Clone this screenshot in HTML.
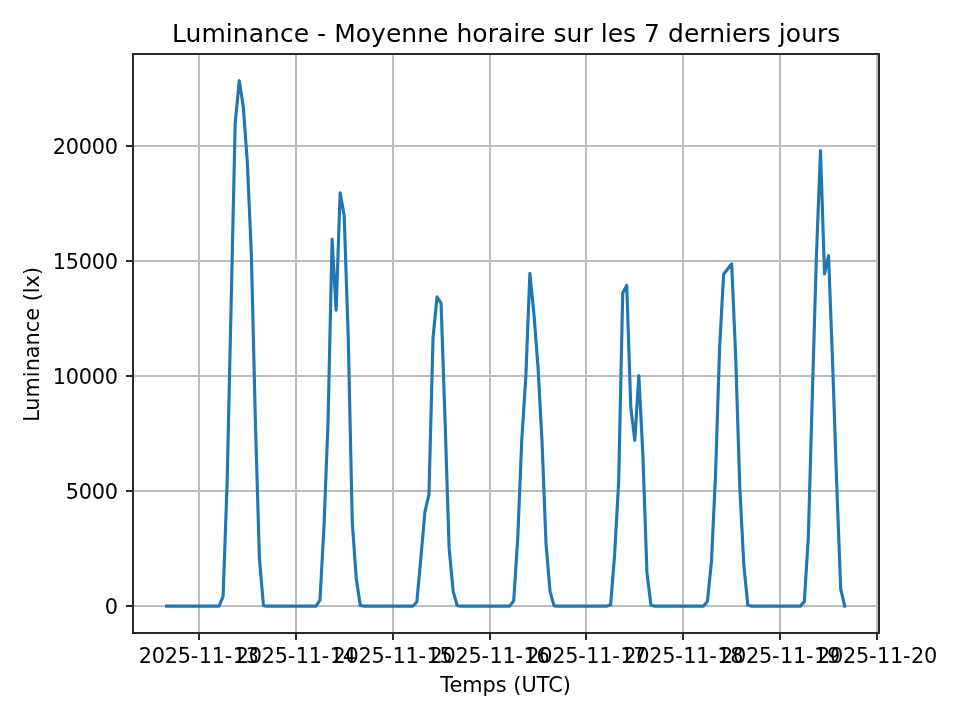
<!DOCTYPE html>
<html lang="fr"><head><meta charset="utf-8"><title>Luminance - Moyenne horaire sur les 7 derniers jours</title>
<style>html,body{margin:0;padding:0;background:#fff;overflow:hidden}svg{display:block}text{font-family:"DejaVu Sans","Liberation Sans",sans-serif;fill:#000}</style></head><body>
<svg width="960" height="720" viewBox="0 0 960 720">
<rect width="960" height="720" fill="#fff"/>
<g fill="#bdbdbd" shape-rendering="crispEdges">
<rect x="198" y="54" width="2" height="579"/>
<rect x="295" y="54" width="2" height="579"/>
<rect x="392" y="54" width="2" height="579"/>
<rect x="489" y="54" width="2" height="579"/>
<rect x="585" y="54" width="2" height="579"/>
<rect x="682" y="54" width="2" height="579"/>
<rect x="779" y="54" width="2" height="579"/>
<rect x="876" y="54" width="2" height="579"/>
<rect x="133" y="605" width="746" height="2"/>
<rect x="133" y="490" width="746" height="2"/>
<rect x="133" y="375" width="746" height="2"/>
<rect x="133" y="260" width="746" height="2"/>
<rect x="133" y="145" width="746" height="2"/>
</g>
<polyline points="166.58,606.15 170.62,606.15 174.65,606.15 178.69,606.15 182.73,606.15 186.76,606.15 190.80,606.15 194.84,606.15 198.87,606.15 202.91,606.15 206.95,606.15 210.98,606.15 215.02,606.15 219.05,606.15 223.09,596.40 227.13,482.64 231.16,302.78 235.20,123.45 239.24,80.69 243.27,106.59 247.31,161.79 251.35,253.79 255.38,421.69 259.42,558.45 263.46,605.69 267.49,606.15 271.53,606.15 275.57,606.15 279.60,606.15 283.64,606.15 287.68,606.15 291.71,606.15 295.75,606.15 299.78,606.15 303.82,606.15 307.86,606.15 311.89,606.15 315.93,606.15 319.97,600.17 324.00,526.68 328.04,421.69 332.08,239.00 336.11,310.30 340.15,192.70 344.19,215.84 348.22,336.59 352.26,521.74 356.30,579.08 360.33,605.46 364.37,606.15 368.41,606.15 372.44,606.15 376.48,606.15 380.51,606.15 384.55,606.15 388.59,606.15 392.62,606.15 396.66,606.15 400.70,606.15 404.73,606.15 408.77,606.15 412.81,606.15 416.84,602.01 420.88,557.85 424.92,511.62 428.95,494.69 432.99,338.43 437.03,296.89 441.06,303.24 445.10,421.69 449.13,548.42 453.17,591.43 457.21,605.69 461.24,606.15 465.28,606.15 469.32,606.15 473.35,606.15 477.39,606.15 481.43,606.15 485.46,606.15 489.50,606.15 493.54,606.15 497.57,606.15 501.61,606.15 505.65,606.15 509.68,606.15 513.72,600.75 517.76,537.84 521.79,439.70 525.83,376.84 529.87,273.39 533.90,313.59 537.94,365.80 541.97,440.09 546.01,543.59 550.05,591.43 554.08,605.92 558.12,606.15 562.16,606.15 566.19,606.15 570.23,606.15 574.27,606.15 578.30,606.15 582.34,606.15 586.38,606.15 590.41,606.15 594.45,606.15 598.49,606.15 602.52,606.15 606.56,606.15 610.60,604.77 614.63,554.63 618.67,481.72 622.70,293.12 626.74,285.30 630.78,407.20 634.81,440.32 638.85,375.69 642.89,454.81 646.92,572.20 650.96,605.23 655.00,606.15 659.03,606.15 663.07,606.15 667.11,606.15 671.14,606.15 675.18,606.15 679.22,606.15 683.25,606.15 687.29,606.15 691.33,606.15 695.36,606.15 699.40,606.15 703.43,606.15 707.47,601.16 711.51,560.84 715.54,474.59 719.58,348.09 723.62,274.19 727.65,269.08 731.69,263.98 735.73,357.75 739.76,486.78 743.80,564.75 747.84,605.23 751.87,606.15 755.91,606.15 759.95,606.15 763.98,606.15 768.02,606.15 772.06,606.15 776.09,606.15 780.13,606.15 784.16,606.15 788.20,606.15 792.24,606.15 796.27,606.15 800.31,606.15 804.35,601.64 808.38,535.77 812.42,391.79 816.46,254.71 820.49,150.68 824.53,274.03 828.57,255.70 832.60,362.81 836.64,481.72 840.68,588.90 844.71,606.15" fill="none" stroke="#1f77b4" stroke-width="3.125" stroke-linejoin="round" stroke-linecap="square"/>
<g fill="#2a2a2a" shape-rendering="crispEdges">
<rect x="198" y="633" width="2" height="7"/>
<rect x="295" y="633" width="2" height="7"/>
<rect x="392" y="633" width="2" height="7"/>
<rect x="489" y="633" width="2" height="7"/>
<rect x="585" y="633" width="2" height="7"/>
<rect x="682" y="633" width="2" height="7"/>
<rect x="779" y="633" width="2" height="7"/>
<rect x="876" y="633" width="2" height="7"/>
<rect x="126" y="605" width="7" height="2"/>
<rect x="126" y="490" width="7" height="2"/>
<rect x="126" y="375" width="7" height="2"/>
<rect x="126" y="260" width="7" height="2"/>
<rect x="126" y="145" width="7" height="2"/>
<rect x="132" y="53" width="2" height="581"/>
<rect x="878" y="53" width="2" height="581"/>
<rect x="132" y="53" width="748" height="2"/>
<rect x="132" y="632" width="748" height="2"/>
</g>
<g font-size="20.833px">
<text x="138.77 151.77 164.77 177.77 190.77 198.77 211.77 224.77 232.77 245.77" y="663">2025-11-13</text>
<text x="235.65 248.65 261.65 274.65 287.65 295.65 308.65 321.65 329.65 342.65" y="663">2025-11-14</text>
<text x="332.52 345.52 358.52 371.52 384.52 392.52 405.52 418.52 426.52 439.52" y="663">2025-11-15</text>
<text x="429.40 442.40 455.40 468.40 481.40 489.40 502.40 515.40 523.40 536.40" y="663">2025-11-16</text>
<text x="526.28 539.28 552.28 565.28 578.28 586.28 599.28 612.28 620.28 633.28" y="663">2025-11-17</text>
<text x="623.15 636.15 649.15 662.15 675.15 683.15 696.15 709.15 717.15 730.15" y="663">2025-11-18</text>
<text x="720.03 733.03 746.03 759.03 772.03 780.03 793.03 806.03 814.03 827.03" y="663">2025-11-19</text>
<text x="816.91 829.91 842.91 855.91 868.91 876.91 889.91 902.91 910.91 923.91" y="663">2025-11-20</text>
<text x="104.84" y="613.6">0</text>
<text x="65.84 78.84 91.84 104.84" y="498.6">5000</text>
<text x="52.84 65.84 78.84 91.84 104.84" y="383.6">10000</text>
<text x="52.84 65.84 78.84 91.84 104.84" y="268.6">15000</text>
<text x="52.84 65.84 78.84 91.84 104.84" y="153.6">20000</text>
<text x="505.6" y="691.5" text-anchor="middle">Temps (UTC)</text>
<text transform="translate(38.75,344.4) rotate(-90)" text-anchor="middle">Luminance (lx)</text>
</g>
<text x="506.2" y="41.5" font-size="25.0px" text-anchor="middle" textLength="668.3" lengthAdjust="spacing">Luminance - Moyenne horaire sur les 7 derniers jours</text>
</svg></body></html>
